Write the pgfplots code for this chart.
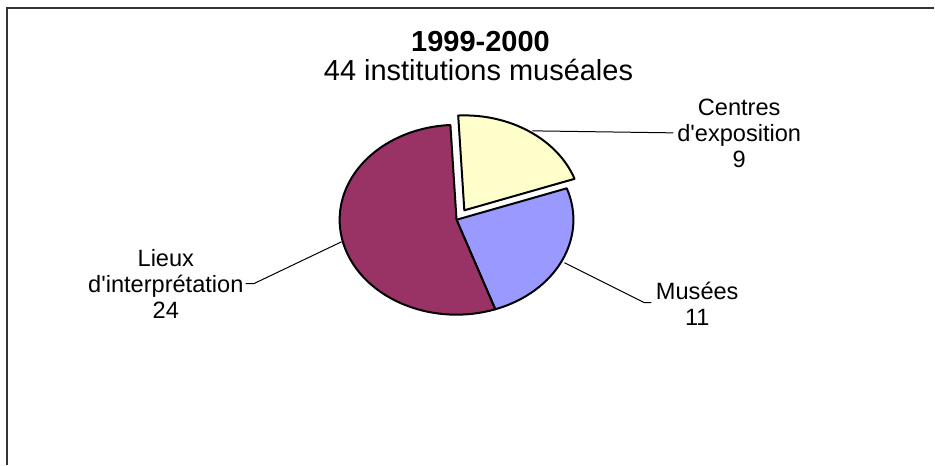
\documentclass[border=0pt]{standalone}
\usepackage{fontspec}
\setmainfont{Liberation Sans}
\usepackage{pgfplots}
\usepackage{pgfplotstable}
\pgfplotsset{compat=1.18}
\definecolor{cYel}{HTML}{FFFFCC}
\definecolor{cBlu}{HTML}{9999FF}
\definecolor{cMag}{HTML}{993366}
\pgfplotstableread{
label value
Centres 9
Musees 11
Lieux 24
}\pietable
\begin{document}
\begin{tikzpicture}
\pgfplotstablegetelem{0}{value}\of\pietable \let\va\pgfplotsretval
\pgfplotstablegetelem{1}{value}\of\pietable \let\vb\pgfplotsretval
\pgfplotstablegetelem{2}{value}\of\pietable \let\vc\pgfplotsretval
\pgfmathsetmacro\total{\va+\vb+\vc}
\pgfmathsetmacro\aS{93}
\pgfmathsetmacro\aA{\aS-360*\va/\total}
\pgfmathsetmacro\aB{\aA-360*\vb/\total}
\pgfmathsetmacro\aC{\aB-360*\vc/\total}
\pgfmathsetmacro\aMid{(\aS+\aA)/2}
\pgfmathsetmacro\ex{0.12*58.5*cos(\aMid)}
\pgfmathsetmacro\ey{0.12*47.5*sin(\aMid)}
\begin{axis}[
  scale only axis, width=467.5pt, height=232.5pt,
  xmin=0, xmax=935, ymin=0, ymax=465,
  hide axis, clip=false,
]
\path (axis cs:0,0) rectangle (axis cs:935,465);
% frame
\draw[black!80, line width=1pt] (axis cs:7.5,0) -- (axis cs:7.5,456.5) -- (axis cs:935,456.5);
% pie
\filldraw[fill=cBlu, draw=black, line width=1pt, line join=round]
  (axis cs:457,245) -- ++(\aA:58.5pt and 47.5pt)
  arc[start angle=\aA, end angle=\aB, x radius=58.5pt, y radius=47.5pt] -- cycle;
\filldraw[fill=cMag, draw=black, line width=1pt, line join=round]
  (axis cs:457,245) -- ++(\aB:58.5pt and 47.5pt)
  arc[start angle=\aB, end angle=\aC, x radius=58.5pt, y radius=47.5pt] -- cycle;
\filldraw[fill=cYel, draw=black, line width=1pt, line join=round]
  ([shift={(\ex pt,\ey pt)}]axis cs:457,245) -- ++(\aS:58.5pt and 47.5pt)
  arc[start angle=\aS, end angle=\aA, x radius=58.5pt, y radius=47.5pt] -- cycle;
% leader lines
\draw[black, line width=0.5pt] (axis cs:246,181) -- (axis cs:254,181) -- (axis cs:342,223);
\draw[black, line width=0.5pt] (axis cs:652,162) -- (axis cs:645,162) -- (axis cs:565,202);
\draw[black, line width=0.5pt] (axis cs:533,334) -- (axis cs:674,332);
% titles
\node[font=\fontsize{14.5}{16}\selectfont\bfseries] at (axis cs:481,423) {1999-2000};
\node[font=\fontsize{14.5}{16}\selectfont] at (axis cs:479,394.5) {44 institutions muséales};
% labels
\node[font=\fontsize{11.8}{13}\selectfont, align=center] at (axis cs:740,331) {Centres\\d\textquotesingle exposition\\\va};
\node[font=\fontsize{11.8}{13}\selectfont, align=center] at (axis cs:166,181) {Lieux\\d\textquotesingle interprétation\\\vc};
\node[font=\fontsize{11.8}{13}\selectfont, align=center] at (axis cs:698,161) {Musées\\\vb};
\end{axis}
\end{tikzpicture}
\end{document}
